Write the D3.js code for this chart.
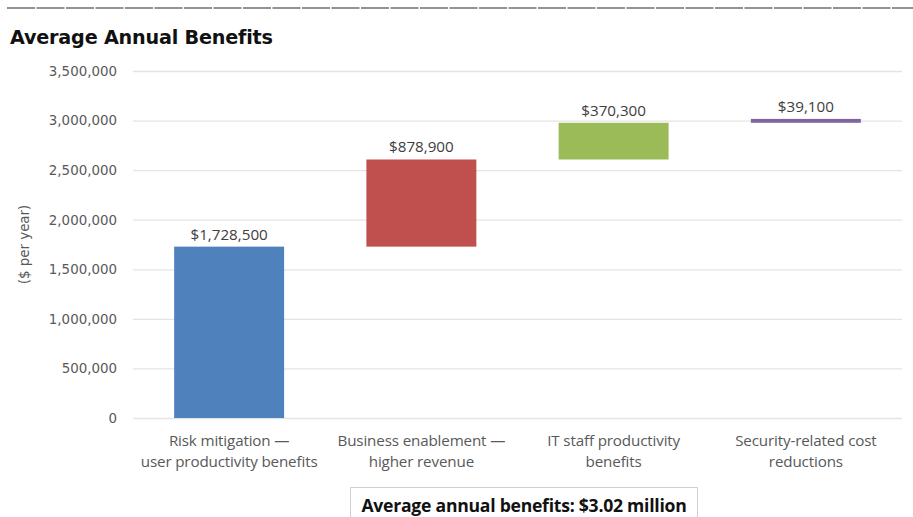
<!DOCTYPE html>
<html>
<head>
<meta charset="utf-8">
<script src="https://cdn.jsdelivr.net/npm/d3@7"></script>
<style>
  html, body { margin: 0; padding: 0; background: #fff; }
  svg { display: block; }
</style>
</head>
<body>
<svg id="chart" width="913" height="517"></svg>
<script>
// Benefit categories (two-line labels) and their annual values in dollars
const categories = [
  ["Risk mitigation \u2014", "user productivity benefits"],
  ["Business enablement \u2014", "higher revenue"],
  ["IT staff productivity", "benefits"],
  ["Security-related cost", "reductions"]
];
const values = [1728500, 878900, 370300, 39100];
const barColors = ["#4f81bd", "#c0504d", "#9bbb59", "#8064a2"];
const yTicks = [0, 500000, 1000000, 1500000, 2000000, 2500000, 3000000, 3500000];
const chartTitle = "Average Annual Benefits";
const yAxisTitle = "($ per year)";
const totalNote = "Average annual benefits: $3.02 million";

const svg = d3.select("#chart");
const plotLeft = 133, plotRight = 902, plotTop = 71, plotBottom = 418;

// Waterfall: each bar starts where the previous one ended
let running = 0;
const steps = values.map((v, i) => {
  const s = { i, start: running, end: running + v, value: v };
  running += v;
  return s;
});

const x = d3.scaleBand()
  .domain(d3.range(categories.length))
  .range([plotLeft, plotRight])
  .paddingInner(0.428)
  .paddingOuter(0.214);

const y = d3.scaleLinear().domain([0, 3500000]).range([plotBottom, plotTop]);

// Faintly broken rule across the top
svg.append("line")
  .attr("x1", 7).attr("x2", 913).attr("y1", 8).attr("y2", 8)
  .attr("stroke", "#707070").attr("stroke-width", 1.3)
  .attr("stroke-dasharray", "28,1.5");

// Title
svg.append("text")
  .attr("x", 10).attr("y", 44)
  .attr("font-family", "DejaVu Sans")
  .attr("font-weight", "bold")
  .attr("font-size", 19.2)
  .attr("letter-spacing", -0.2)
  .attr("fill", "#111")
  .text(chartTitle);

// Gridlines + tick labels
const yAxis = d3.axisLeft(y)
  .tickValues(yTicks)
  .tickSize(-(plotRight - plotLeft))
  .tickPadding(16)
  .tickFormat(d3.format(","));

const gy = svg.append("g")
  .attr("transform", `translate(${plotLeft},0)`)
  .call(yAxis);
gy.select(".domain").remove();
gy.selectAll(".tick line").attr("stroke", "#e4e4e4").attr("stroke-width", 1.3);
gy.selectAll(".tick text")
  .attr("fill", "#595959")
  .attr("font-family", "DejaVu Sans")
  .attr("font-size", 13.4);

// Y axis title
svg.append("text")
  .attr("transform", `translate(29,${(plotTop + plotBottom) / 2}) rotate(-90)`)
  .attr("text-anchor", "middle")
  .attr("font-family", "DejaVu Sans")
  .attr("font-size", 13.4)
  .attr("fill", "#595959")
  .text(yAxisTitle);

// Bars
svg.append("g").selectAll("rect")
  .data(steps)
  .join("rect")
  .attr("x", d => x(d.i))
  .attr("width", x.bandwidth())
  .attr("y", d => y(d.end))
  .attr("height", d => y(d.start) - y(d.end))
  .attr("fill", d => barColors[d.i]);

// Value labels above bars
const fmt = d3.format("$,");
svg.append("g").selectAll("text")
  .data(steps)
  .join("text")
  .attr("x", d => x(d.i) + x.bandwidth() / 2)
  .attr("y", d => y(d.end) - 7)
  .attr("text-anchor", "middle")
  .attr("font-family", "Open Sans")
  .attr("font-size", 15.2)
  .attr("fill", "#404040")
  .text(d => fmt(d.value));

// Category labels
const cat = svg.append("g").selectAll("text")
  .data(categories)
  .join("text")
  .attr("text-anchor", "middle")
  .attr("font-family", "Open Sans")
  .attr("font-size", 15.2)
  .attr("letter-spacing", -0.15)
  .attr("fill", "#595959");
cat.each(function(lines, i) {
  const t = d3.select(this);
  lines.forEach((ln, k) => {
    t.append("tspan")
      .attr("x", x(i) + x.bandwidth() / 2)
      .attr("y", 446 + k * 21)
      .text(ln);
  });
});

// Total note box
svg.append("rect")
  .attr("x", 350.5).attr("y", 487.5)
  .attr("width", 347).attr("height", 40)
  .attr("fill", "#fff")
  .attr("stroke", "#d0d0d0").attr("stroke-width", 1);
svg.append("text")
  .attr("x", 524).attr("y", 512)
  .attr("text-anchor", "middle")
  .attr("font-family", "Open Sans")
  .attr("font-weight", "bold")
  .attr("font-size", 17.6)
  .attr("letter-spacing", -0.25)
  .attr("fill", "#111")
  .text(totalNote);
</script>
</body>
</html>
